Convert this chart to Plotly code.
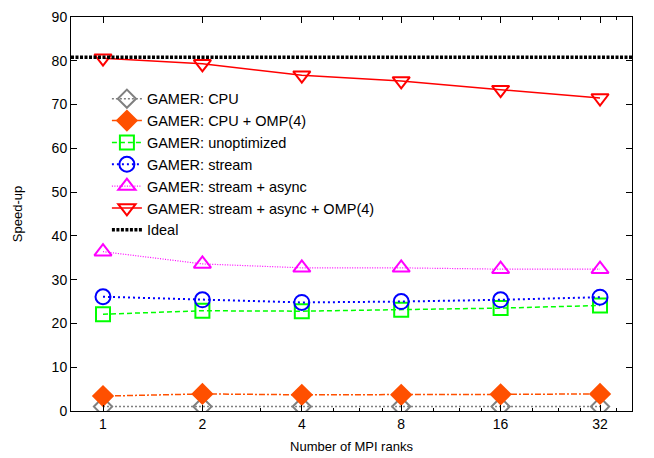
import plotly.graph_objects as go

# MPI ranks and measured speed-ups
ranks = [1, 2, 4, 8, 16, 32]
cpu = [1.0, 1.0, 1.0, 1.0, 1.0, 1.0]
cpu_omp = [3.4, 3.9, 3.7, 3.7, 3.8, 3.9]
unoptimized = [22.1, 22.9, 22.8, 23.1, 23.5, 24.1]
stream = [26.1, 25.4, 24.8, 25.0, 25.4, 26.0]
stream_async = [36.4, 33.6, 32.7, 32.7, 32.4, 32.4]
stream_async_omp = [80.6, 79.3, 76.7, 75.4, 73.4, 71.5]
ideal = 80.8

x_range = [0.8, 40]
minor_ticks = [3, 5, 6, 7, 10, 12, 14, 20, 24, 28, 36]

FONT = "Liberation Sans, Arial, sans-serif"

series = [
    ("GAMER: CPU", cpu, "#808080", "2px,2px", 1.5, "diamond-open", 14),
    ("GAMER: CPU + OMP(4)", cpu_omp, "#ff5000", "6px,2px,2px,2px", 1.5, "diamond", 15),
    ("GAMER: unoptimized", unoptimized, "#00ff00", "5px,3px", 1.5, "square-open", 14),
    ("GAMER: stream", stream, "#0000ff", "2px,3px", 2, "circle-open", 15),
    ("GAMER: stream + async", stream_async, "#ff00ff", "1px,1.5px", 1.2, "triangle-up-open", 15),
    ("GAMER: stream + async + OMP(4)", stream_async_omp, "#ff0000", "solid", 1.5, "triangle-down-open", 15),
]

fig = go.Figure()

for name, vals, color, dash, width, symbol, size in series:
    fig.add_trace(go.Scatter(
        x=ranks, y=vals, name=name, mode="lines+markers",
        legendgroup=name,
        line=dict(color=color, dash=dash, width=width),
        marker=dict(symbol=symbol, size=size, color=color,
                    line=dict(color=color, width=2)),
    ))

# ideal speed-up spans the whole x range
fig.add_trace(go.Scatter(
    x=x_range, y=[ideal, ideal], name="Ideal", mode="lines",
    legendgroup="Ideal",
    line=dict(color="black", dash="3px,1.5px", width=3.5),
))

axis_common = dict(
    showline=True, linecolor="black", linewidth=1, mirror="ticks",
    ticks="inside", ticklen=6, tickcolor="black", showgrid=False,
    zeroline=False, automargin=False,
    tickfont=dict(size=14, color="black"),
)

fig.update_xaxes(
    type="log", range=[-0.0969, 1.602],
    tickmode="array", tickvals=ranks, ticktext=[str(r) for r in ranks],
    title=dict(text="Number of MPI ranks", font=dict(size=13), standoff=11),
    minor=dict(tickmode="array", tickvals=minor_ticks, ticks="inside",
               ticklen=3, tickcolor="black"),
    **axis_common,
)
fig.update_yaxes(
    range=[0, 90], dtick=10,
    title=dict(text="Speed-up", font=dict(size=13), standoff=26),
    **axis_common,
)

# the page body adds 8px on the left and top, so the figure is sized to fit
fig.update_layout(
    width=646, height=450,
    margin=dict(l=63, r=22, t=9, b=47),
    plot_bgcolor="white", paper_bgcolor="white",
    font=dict(family=FONT, size=13, color="black"),
    legend=dict(x=0.064, y=0.833, xanchor="left", yanchor="top",
                bgcolor="rgba(0,0,0,0)", tracegroupgap=0,
                font=dict(size=14.5)),
)

fig.write_html("out.html")
